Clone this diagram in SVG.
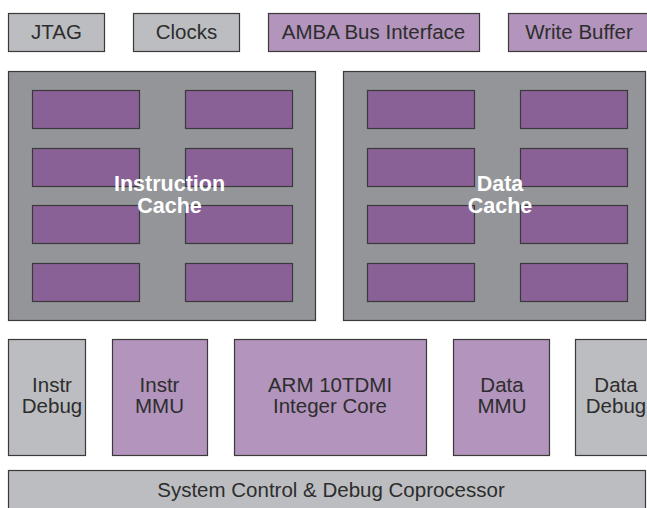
<svg xmlns="http://www.w3.org/2000/svg" width="647" height="508" viewBox="0 0 647 508">
<style>
.box{stroke:#3a3a3a;stroke-width:1.2}
.gray{fill:#bcbdc0}
.lp{fill:#b294bc}
.cache{fill:#939598}
.cell{fill:#8a6196}
.lbl{font-family:"Liberation Sans",Arial,sans-serif;font-size:20.5px;fill:#2d2d2d;text-anchor:middle}
.cl{font-family:"Liberation Sans",Arial,sans-serif;font-size:21.5px;font-weight:bold;fill:#ffffff;text-anchor:middle}
</style>
<rect width="647" height="508" fill="#ffffff"/>
<g id="jtag"><rect class="box gray" x="8.5" y="13.5" width="96" height="38"/><text class="lbl" x="56.5" y="39">JTAG</text></g>
<g id="clocks"><rect class="box gray" x="133.5" y="13.5" width="106" height="38"/><text class="lbl" x="186.5" y="39">Clocks</text></g>
<g id="amba"><rect class="box lp" x="268.5" y="13.5" width="211" height="38"/><text class="lbl" x="373.5" y="39">AMBA Bus Interface</text></g>
<g id="writebuffer"><rect class="box lp" x="508.5" y="13.5" width="145" height="38"/><text class="lbl" x="579" y="39">Write Buffer</text></g>
<g id="icache">
<rect class="box cache" x="8.5" y="71.5" width="307" height="249"/>
<rect class="box cell" x="32.5" y="90.5" width="107" height="38"/><rect class="box cell" x="185.5" y="90.5" width="107" height="38"/>
<rect class="box cell" x="32.5" y="148.5" width="107" height="38"/><rect class="box cell" x="185.5" y="148.5" width="107" height="38"/>
<rect class="box cell" x="32.5" y="205.5" width="107" height="38"/><rect class="box cell" x="185.5" y="205.5" width="107" height="38"/>
<rect class="box cell" x="32.5" y="263.5" width="107" height="38"/><rect class="box cell" x="185.5" y="263.5" width="107" height="38"/>
<text class="cl" x="169.5" y="191">Instruction</text><text class="cl" x="169.5" y="213">Cache</text>
</g>
<g id="dcache">
<rect class="box cache" x="343.5" y="71.5" width="302" height="249"/>
<rect class="box cell" x="367.5" y="90.5" width="107" height="38"/><rect class="box cell" x="520.5" y="90.5" width="107" height="38"/>
<rect class="box cell" x="367.5" y="148.5" width="107" height="38"/><rect class="box cell" x="520.5" y="148.5" width="107" height="38"/>
<rect class="box cell" x="367.5" y="205.5" width="107" height="38"/><rect class="box cell" x="520.5" y="205.5" width="107" height="38"/>
<rect class="box cell" x="367.5" y="263.5" width="107" height="38"/><rect class="box cell" x="520.5" y="263.5" width="107" height="38"/>
<text class="cl" x="500" y="191">Data</text><text class="cl" x="500" y="213">Cache</text>
</g>
<g id="instrdebug"><rect class="box gray" x="8.5" y="339.5" width="77" height="116"/><text class="lbl" x="52" y="392">Instr</text><text class="lbl" x="52" y="413">Debug</text></g>
<g id="instrmmu"><rect class="box lp" x="112.5" y="339.5" width="95" height="116"/><text class="lbl" x="159.5" y="392">Instr</text><text class="lbl" x="159.5" y="413">MMU</text></g>
<g id="core"><rect class="box lp" x="234.5" y="339.5" width="192" height="116"/><text class="lbl" x="330" y="392">ARM 10TDMI</text><text class="lbl" x="330" y="413">Integer Core</text></g>
<g id="datammu"><rect class="box lp" x="453.5" y="339.5" width="96" height="116"/><text class="lbl" x="502" y="392">Data</text><text class="lbl" x="502" y="413">MMU</text></g>
<g id="datadebug"><rect class="box gray" x="575.5" y="339.5" width="82" height="116"/><text class="lbl" x="616" y="392">Data</text><text class="lbl" x="616" y="413">Debug</text></g>
<g id="syscontrol"><rect class="box gray" x="8.5" y="470.5" width="637" height="45"/><text class="lbl" x="331" y="497">System Control &amp; Debug Coprocessor</text></g>
<g id="connectors"/>
</svg>
